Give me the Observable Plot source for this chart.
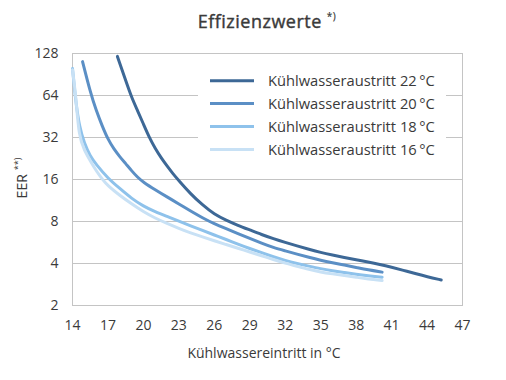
<!DOCTYPE html>
<html><head><meta charset="utf-8">
<script src="https://cdn.jsdelivr.net/npm/d3@7"></script>
<script src="https://cdn.jsdelivr.net/npm/@observablehq/plot@0.6"></script>
<style>body{margin:0;background:#fff;font-family:"Open Sans",sans-serif}</style>
</head><body><div id="chart"></div>
<script>
const title = "Effizienzwerte";
const titleNote = "*)";
const yLabel = "EER";
const yNote = "**)";
const xLabel = "Kühlwassereintritt in °C";
const seriesNames = ["Kühlwasseraustritt 22\u2009°C","Kühlwasseraustritt 20\u2009°C","Kühlwasseraustritt 18\u2009°C","Kühlwasseraustritt 16\u2009°C"];
const colors = ["#3d6896","#5b8fc5","#8ec2eb","#c8e1f5"];
const xTicks = [14,17,20,23,26,29,32,35,38,41,44,47];
const yTicks = [2,4,8,16,32,64,128];

const x22 = [17.8,18.5,19,19.5,20,20.5,21,21.5,22,22.5,23,24,25,26,27,28,29,30,31,32,33,34,35,36,37,38,39,40,41,42,43,44,45.2];
const y22 = [122,82,62,50,40,32,26.7,22.9,20,17.6,15.7,12.6,10.5,9.0,8.17,7.5,6.96,6.45,6.02,5.66,5.35,5.06,4.8,4.6,4.42,4.25,4.1,3.94,3.76,3.57,3.39,3.22,3.05];
const x20 = [14.85,15.5,16,16.5,17,17.5,18,18.5,19,19.5,20,21,22,23,24,25,26,27,28,29,30,31,32,33,34,35,36,37,38,39,40.2];
const y20 = [112,68,50,39,31,26.5,23.3,20.8,18.5,16.6,15.3,13.5,12.0,10.7,9.5,8.5,7.7,7.1,6.55,6.05,5.6,5.2,4.93,4.67,4.43,4.22,4.05,3.9,3.75,3.6,3.47];
const x18 = [14,14.3,14.6,15,15.5,16,17,18,19,20,21,22,23,24,25,26,27,28,29,30,31,32,33,34,35,36,37,38,39,40.2];
const y18 = [100,55,38,29,23.5,20.5,16.3,13.8,11.7,10.3,9.4,8.7,8.05,7.45,6.9,6.4,5.95,5.5,5.12,4.78,4.47,4.2,4.0,3.83,3.67,3.55,3.45,3.35,3.27,3.19];
const x16 = [14,14.28,14.55,15,15.56,16,16.54,17,18,19,20,21,22,23,24,25,26,27,28,29,30,31,32,33,34,35,36,37,38,39,40.2];
const y16 = [98,64,32,26,21.3,18.5,16,14.4,12.3,10.7,9.4,8.45,7.75,7.15,6.62,6.2,5.82,5.47,5.14,4.84,4.55,4.27,4.02,3.82,3.63,3.47,3.37,3.28,3.19,3.1,3.02];

const xs = [x22,x20,x18,x16], ys = [y22,y20,y18,y16];
const data = [];
seriesNames.forEach((s,i)=>xs[i].forEach((x,j)=>data.push({series:s,x,y:ys[i][j]})));

const font = '"Open Sans", sans-serif';
const textColor = "#3a3a3a";
const plot = Plot.plot({
  width:506, height:380, marginTop:53, marginBottom:75, marginLeft:72, marginRight:44,
  style:{fontFamily:font, fontSize:"14px", color:textColor, background:"#fff"},
  x:{domain:[14,47]},
  y:{type:"log", base:2, domain:[2,128]},
  color:{domain:seriesNames, range:colors},
  marks:[
    Plot.gridY(yTicks,{stroke:"#c4c4c4", strokeOpacity:1}),
    Plot.frame({stroke:"#c4c4c4"}),
    Plot.axisY(yTicks,{tickSize:0, tickPadding:14, tickFormat:d=>String(d), label:null, fontSize:14, fill:textColor}),
    Plot.axisX(xTicks,{tickSize:0, tickPadding:15, tickFormat:d=>String(d), label:null, fontSize:14, fill:textColor}),
    Plot.line(data,{x:"x", y:"y", z:"series", stroke:"series", strokeWidth:3, curve:"basis"})
  ]
});
document.getElementById("chart").appendChild(plot);

const svg = d3.select(plot);
const cx = (72 + 462)/2;
const t = svg.append("text").attr("x",cx).attr("y",28).attr("text-anchor","middle")
  .attr("fill",textColor).attr("stroke",textColor).attr("stroke-width",0.4)
  .style("font-family",font).style("font-size","18px").style("letter-spacing","0.5px");
t.append("tspan").text(title);
t.append("tspan").attr("dx",5).attr("dy",-8).attr("stroke-width",0.2).style("font-size","10px").text(titleNote);

const yl = svg.append("text").attr("transform","translate(27,178) rotate(-90)").attr("text-anchor","middle")
  .attr("fill",textColor).style("font-family",font).style("font-size","14px");
yl.append("tspan").text(yLabel);
yl.append("tspan").attr("dx",4).attr("dy",-6).style("font-size","9px").text(yNote);

svg.append("text").attr("x",264).attr("y",358).attr("text-anchor","middle")
  .attr("fill",textColor).style("font-family",font).style("font-size","14px").text(xLabel);

const lg = svg.append("g");
lg.append("rect").attr("x",198).attr("y",66).attr("width",248).attr("height",94).attr("fill","#fff");
seriesNames.forEach((s,i)=>{
  const yy = 80.7 + i*22.9;
  lg.append("line").attr("x1",210).attr("x2",254).attr("y1",yy).attr("y2",yy)
    .attr("stroke",colors[i]).attr("stroke-width",3);
  lg.append("text").attr("x",268).attr("y",yy).attr("dy","0.35em").attr("text-anchor","start").attr("fill",textColor)
    .style("font-family",font).style("font-size","14.7px").text(s);
});
</script></body></html>
